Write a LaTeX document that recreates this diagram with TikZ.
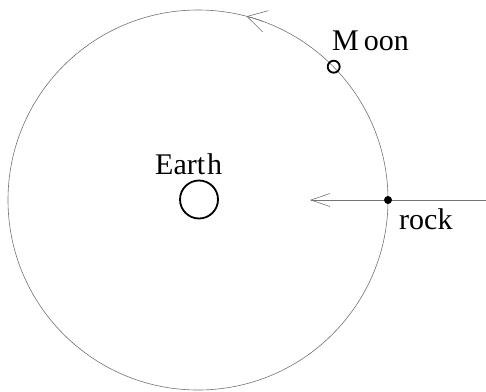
\documentclass[tikz,border=0pt]{standalone}
\usepackage{fontspec}
\setmainfont{Liberation Serif}
\usetikzlibrary{arrows.meta}
\begin{document}
\begin{tikzpicture}[x=1pt,y=-1pt,
  orbit/.style={draw=black!55,line width=0.6pt},
  body/.style={circle,draw=black,line width=1.8pt,inner sep=0pt},
  lab/.style={anchor=base west,inner sep=0pt,font=\fontsize{30}{30}\selectfont},
  barb/.style={-{Straight Barb[length=19pt,width=#1,line width=0.6pt]}}]
\useasboundingbox (0,0) rectangle (486,391);
\coordinate (c) at (198,200);
% orbit
\draw[orbit] (c) circle[radius=190];
\draw[orbit,barb=22pt] (c) ++(-70:190) arc[start angle=-70,end angle=-75.2,radius=190];
% incoming rock path
\coordinate (in) at (486,200);
\coordinate (tip) at (310,200);
\draw[orbit,barb=13pt] (in) -- (tip);
% bodies
\node[body,minimum size=38pt] (earth) at (199,199.5) {};
\node[body,minimum size=12pt] (moon) at (333.7,66.7) {};
\node[circle,fill=black,inner sep=0pt,minimum size=8pt] (rock) at (388,200) {};
% labels
\node[lab] (earthlab) at (155,174) {Eart\kern2pt h};
\node[lab] (moonlab) at (332,50) {M\kern5pt oon};
\node[lab] (rocklab) at (399,229) {rock};
\end{tikzpicture}
\end{document}
